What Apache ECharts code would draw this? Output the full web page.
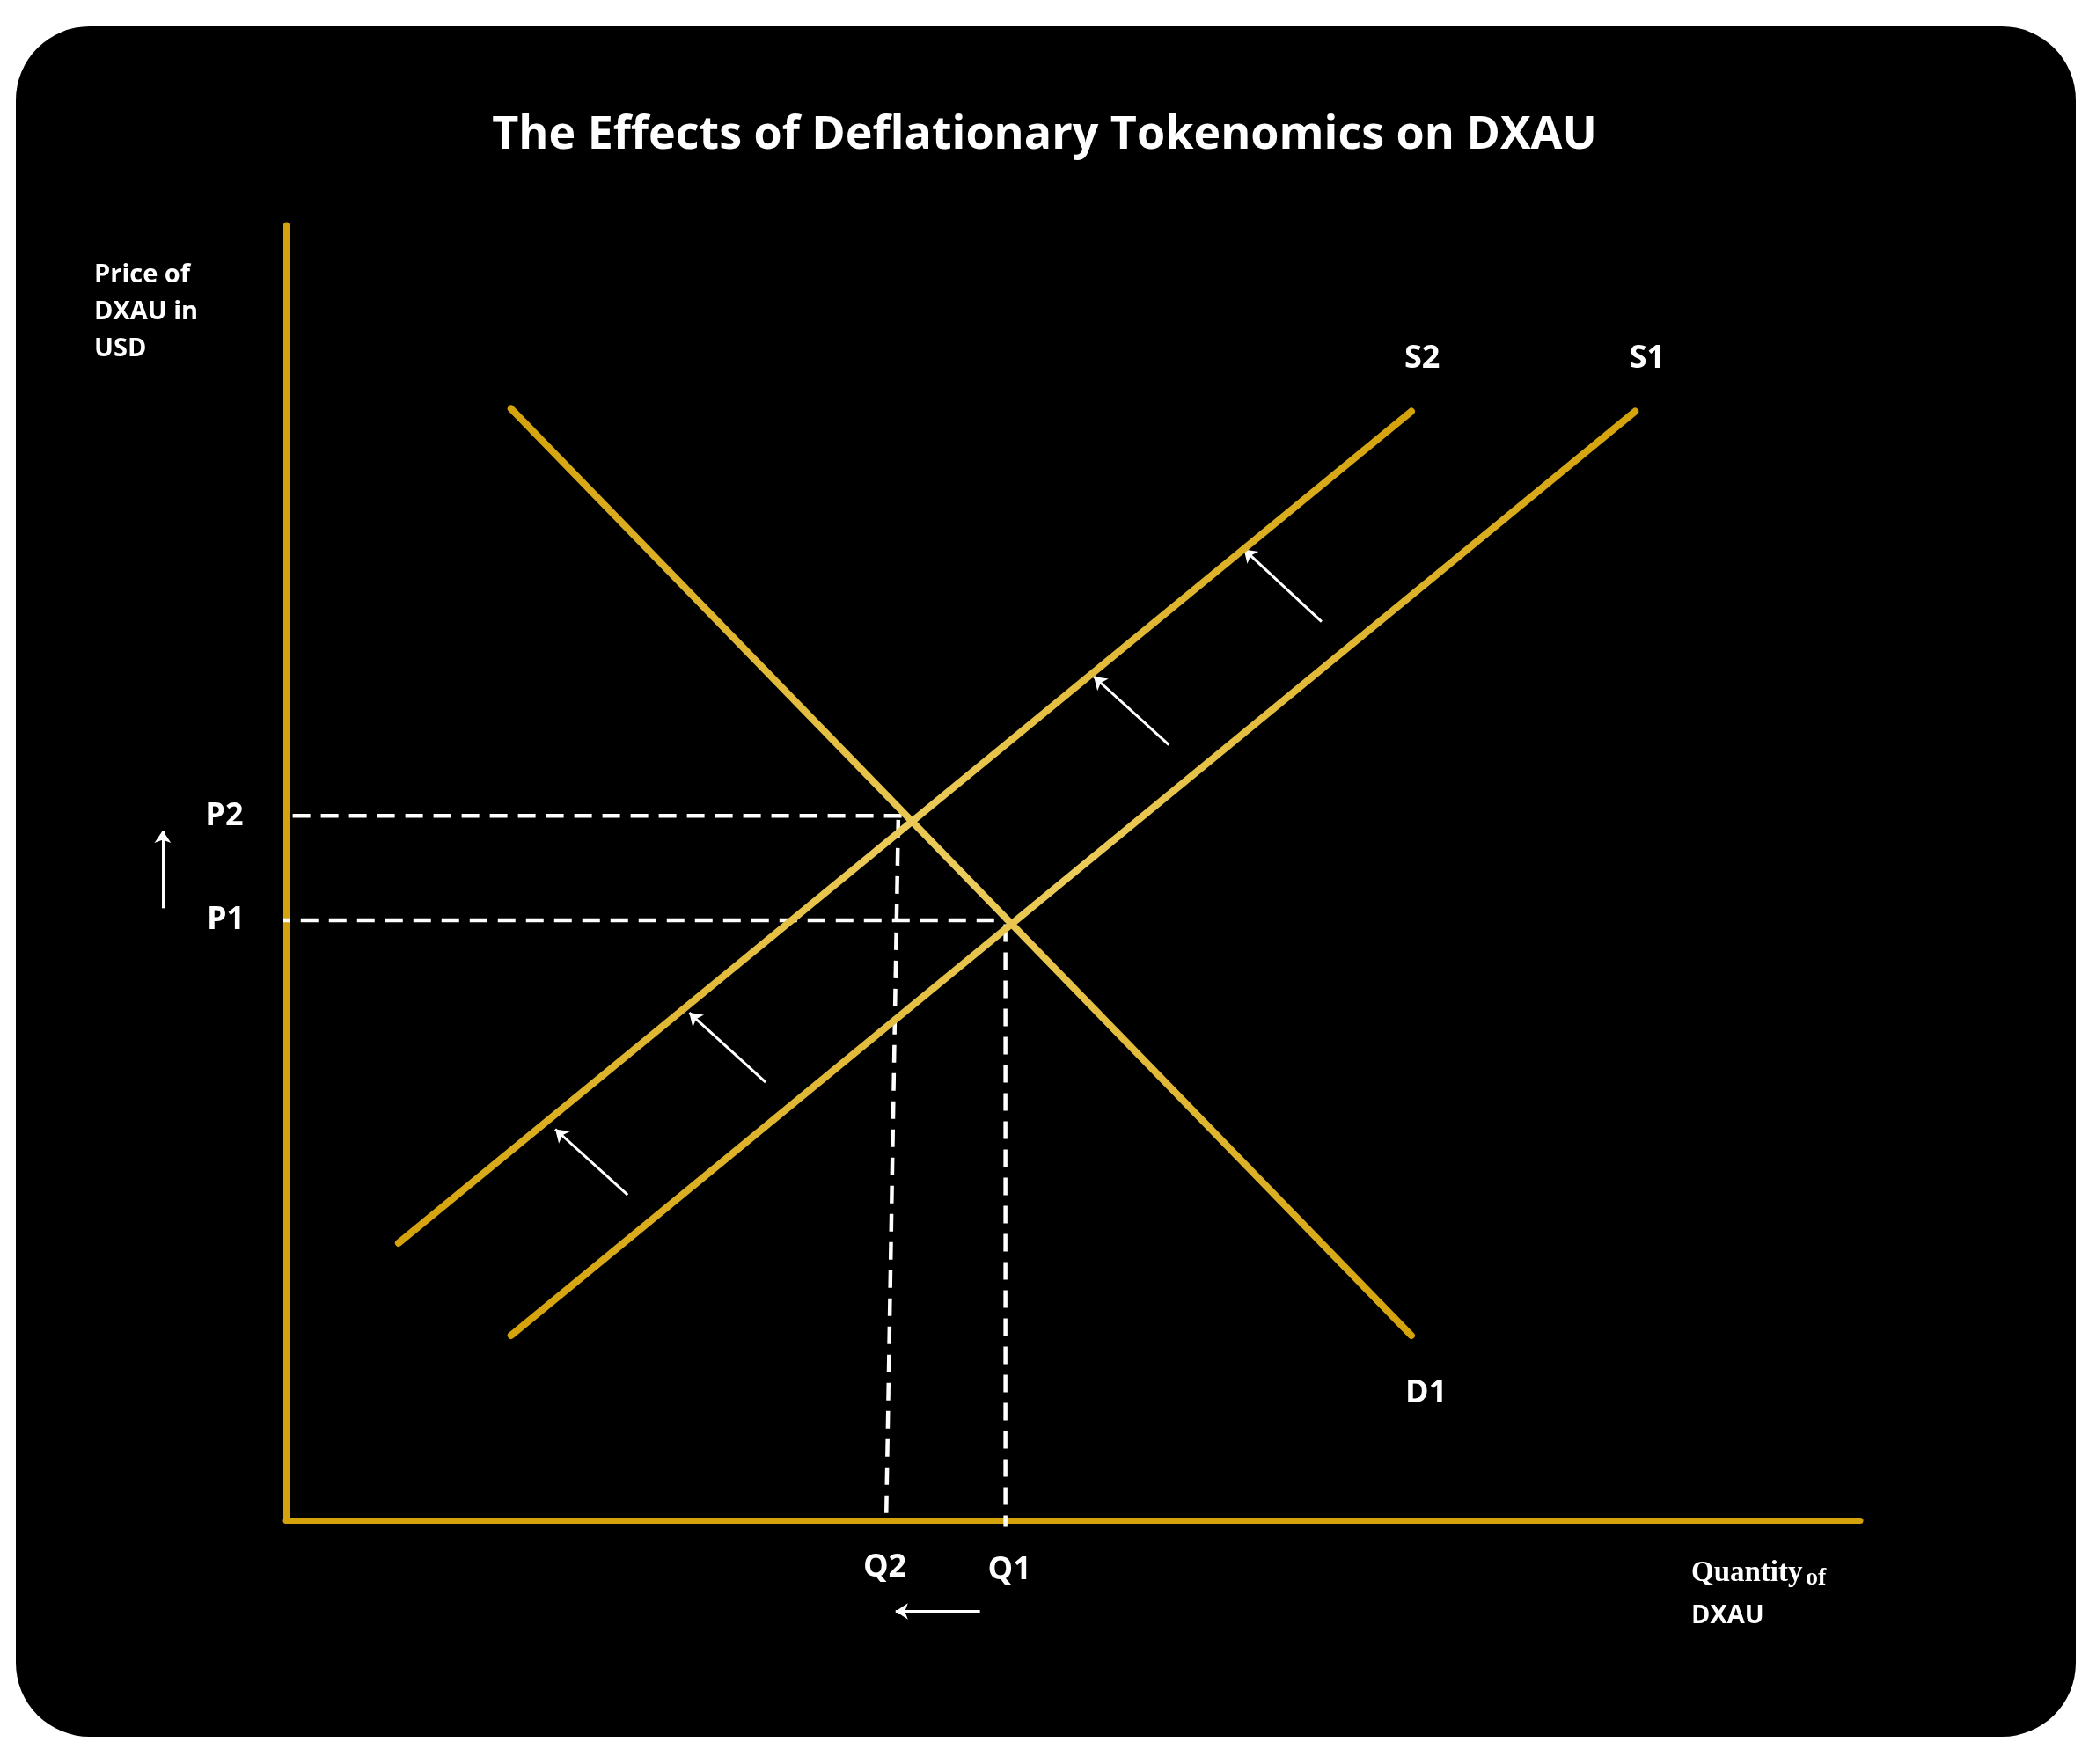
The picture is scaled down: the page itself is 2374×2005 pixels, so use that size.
<!DOCTYPE html>
<html>
<head>
<meta charset="utf-8">
<script src="https://cdn.jsdelivr.net/npm/echarts@6/dist/echarts.min.js"></script>
<style>
html,body{margin:0;padding:0;background:#fff;}
#main{width:2374px;height:2005px;}
</style>
</head>
<body>
<div id="main"></div>
<script>
// curve end points (data units)
var demandD1 = [[168, 830], [840, 138]];
var supplyS2 = [[84, 207], [840, 828]];
var supplyS1 = [[168, 138], [1007, 828]];
// dashed guides
var guideP2 = [[5, 526], [463, 526]];
var guideP1 = [[-10, 448], [537, 448]];
var guideQ2 = [[457, 523], [448, 0]];
var guideQ1 = [[537, 445], [537, -5]];
// shift arrows [from, to]
var shiftArrows = [
    [[773, 671], [715, 725]],
    [[659, 579], [603, 630]],
    [[358, 327], [301, 379]],
    [[255, 243], [201, 292]],
    [[-92, 457], [-92, 515]],
    [[518, -68], [455, -68]]
];
// labels
var pointLabels = [
    ['S2', 848, 867], ['S1', 1016, 867], ['D1', 851, 95],
    ['P2', -46, 526], ['P1', -45, 448], ['Q2', 447, -35], ['Q1', 540, -37]
];

var font = '"Open Sans", sans-serif';
var gold = {
    type: 'linear', x: 0, y: 0, x2: 1, y2: 0,
    colorStops: [{offset: 0, color: '#D4A20A'}, {offset: 0.5, color: '#EBCB5A'}, {offset: 1, color: '#D4A20A'}]
};

function curve(data) {
    return {
        type: 'line', data: data, symbol: 'none', clip: false, silent: true,
        lineStyle: {color: gold, width: 8, cap: 'round'}
    };
}
function dashed(data) {
    return {
        type: 'line', data: data, symbol: 'none', clip: false, silent: true,
        lineStyle: {color: '#fff', width: 4.5, type: [20, 12]}
    };
}

var series = [
    dashed(guideP2), dashed(guideP1), dashed(guideQ2), dashed(guideQ1),
    curve(demandD1), curve(supplyS2), curve(supplyS1),
    {
        type: 'lines', coordinateSystem: 'cartesian2d', silent: true, clip: false,
        symbol: ['none', 'arrow'], symbolSize: 14,
        lineStyle: {color: '#fff', width: 3, opacity: 1},
        data: shiftArrows.map(function (a) { return {coords: a}; })
    },
    {
        type: 'scatter', symbolSize: 1, clip: false, silent: true,
        itemStyle: {color: '#000', opacity: 1},
        data: pointLabels.map(function (p) { return {name: p[0], value: [p[1], p[2]]}; }),
        label: {show: true, position: 'inside', formatter: '{b}', color: '#ffffff',
            textBorderWidth: 0, opacity: 1,
            fontFamily: font, fontWeight: 'bold', fontSize: 36}
    }
];

var myChart = echarts.init(document.getElementById('main'));
myChart.setOption({
    backgroundColor: '#fff',
    animation: false,
    graphic: [
        {type: 'rect', z: -10, shape: {x: 18, y: 30, width: 2341, height: 1944, r: 84}, style: {fill: '#000'}},
        {type: 'text', left: 'center', top: 128, style: {text: 'The Effects of Deflationary Tokenomics on DXAU',
            fill: '#fff', font: 'bold 52px "Open Sans", sans-serif'}},
        {type: 'text', left: 107, top: 292, style: {text: 'Price of\nDXAU in\nUSD', fill: '#fff',
            font: 'bold 29px "Open Sans", sans-serif', lineHeight: 42}},
        {type: 'text', left: 1922, top: 1772, style: {text: 'Quantity', fill: '#fff',
            font: 'bold 33px "Liberation Serif", serif'}},
        {type: 'text', left: 2052, top: 1780, style: {text: 'of', fill: '#fff',
            font: 'bold 28px "Liberation Serif", serif'}},
        {type: 'text', left: 1922, top: 1822, style: {text: 'DXAU', fill: '#fff',
            font: 'bold 29px "Open Sans", sans-serif'}}
    ],
    grid: {left: 325, top: 256, width: 1789, height: 1472},
    xAxis: {type: 'value', min: 0, max: 1175, axisLine: {show: true, onZero: false, lineStyle: {color: '#D4A20A', width: 7}},
        axisTick: {show: false}, axisLabel: {show: false}, splitLine: {show: false}},
    yAxis: {type: 'value', min: 0, max: 967, axisLine: {show: true, onZero: false, lineStyle: {color: '#D4A20A', width: 7}},
        axisTick: {show: false}, axisLabel: {show: false}, splitLine: {show: false}},
    series: series
});
</script>
</body>
</html>
